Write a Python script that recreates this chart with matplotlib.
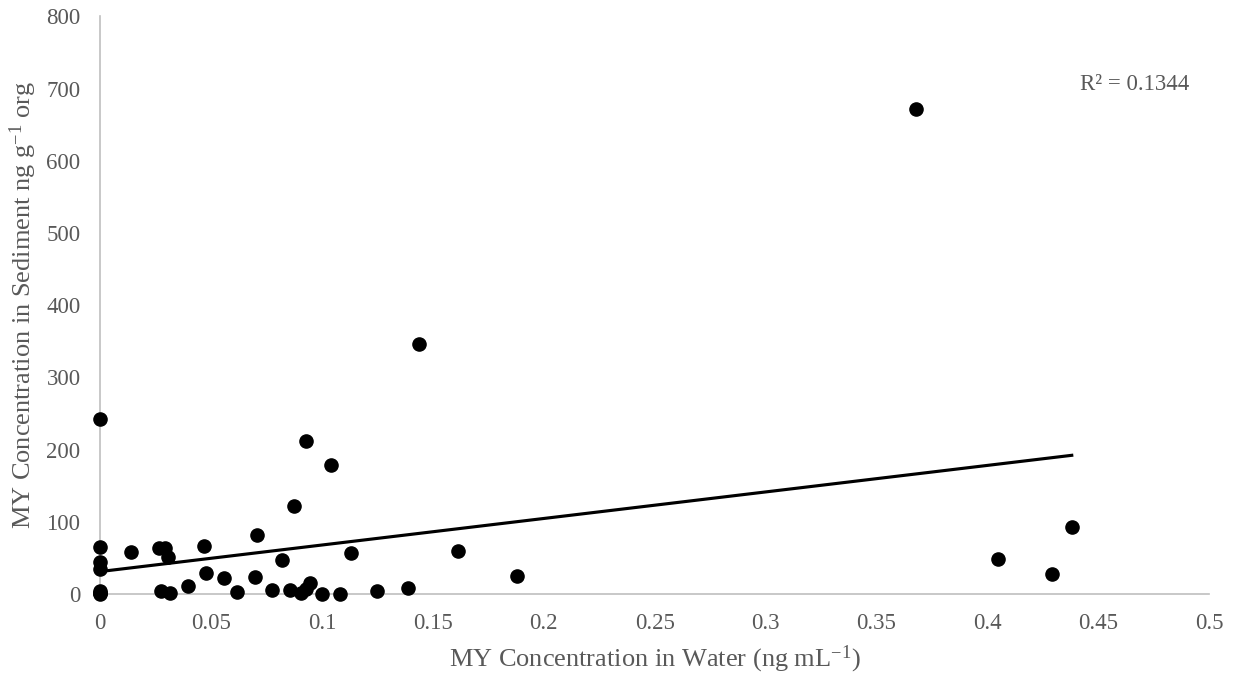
import numpy as np
import matplotlib
matplotlib.use('Agg')
import matplotlib.pyplot as plt

plt.rcParams['font.family'] = ['Liberation Serif', 'DejaVu Serif']
plt.rcParams['mathtext.fontset'] = 'custom'
plt.rcParams['mathtext.rm'] = 'Liberation Serif'
plt.rcParams['mathtext.it'] = 'Liberation Serif:italic'

# data
water = [0, 0, 0, 0, 0, 0, 0, 0,
         0.0141, 0.0265, 0.0295, 0.0308, 0.047, 0.0477, 0.056, 0.0398,
         0.0277, 0.0315, 0.0618, 0.0697, 0.0706, 0.0777, 0.082, 0.0856,
         0.0876, 0.0906, 0.093, 0.0947, 0.0927, 0.1, 0.104, 0.108,
         0.113, 0.125, 0.139, 0.144, 0.1615, 0.188, 0.3676, 0.4048,
         0.429, 0.438]
sediment = [242.5, 64.7, 43.9, 34.6, 4.6, 0, 1, 2,
            57.7, 63.3, 63.3, 50.8, 67, 29.1, 22.2, 11.5,
            3.7, 1.4, 2.3, 24, 81.8, 6, 47.1, 6,
            122.4, 1.4, 6.9, 15.2, 212.5, 0, 179, 0,
            56.4, 4.6, 7.9, 346, 60, 25.4, 672, 49,
            27.7, 93.3]
r2_text = 'R² = 0.1344'

water = np.array(water)
sediment = np.array(sediment)
coef = np.polyfit(water, sediment, 1)
print('fit', coef)
xfit = np.array([0, water.max()])

fig = plt.figure(figsize=(12.34, 6.79), dpi=100)
ax = fig.add_axes([0.081, 0.125, 0.899, 0.851])

ax.scatter(water, sediment, s=90, color='black', zorder=3, clip_on=False)
ax.plot(xfit, np.polyval(coef, xfit), color='black', linewidth=2.25, zorder=2)

ax.set_xlim(0, 0.5)
ax.set_ylim(0, 800)
ax.set_xticks(np.arange(0, 0.51, 0.05))
ax.set_xticklabels(['0', '0.05', '0.1', '0.15', '0.2', '0.25', '0.3',
                    '0.35', '0.4', '0.45', '0.5'])
ax.set_yticks(np.arange(0, 801, 100))

for s in ['top', 'right']:
    ax.spines[s].set_visible(False)
for s in ['left', 'bottom']:
    ax.spines[s].set_color('#bfbfbf')
    ax.spines[s].set_linewidth(1.2)
ax.tick_params(length=0, labelsize=16.5, colors='#595959')
ax.tick_params(axis='x', pad=13.5)
ax.tick_params(axis='y', pad=14)

ax.set_xlabel(r'MY Concentration in Water (ng mL$^{-1}$)', fontsize=19,
              color='#595959', labelpad=7)
ax.set_ylabel(r'MY Concentration in Sediment ng g$^{-1}$ org', fontsize=19,
              color='#595959', labelpad=5)

ax.text(0.4415, 705, r2_text, fontsize=16.5, color='#595959', va='center')

plt.savefig('out.png', dpi=100)
